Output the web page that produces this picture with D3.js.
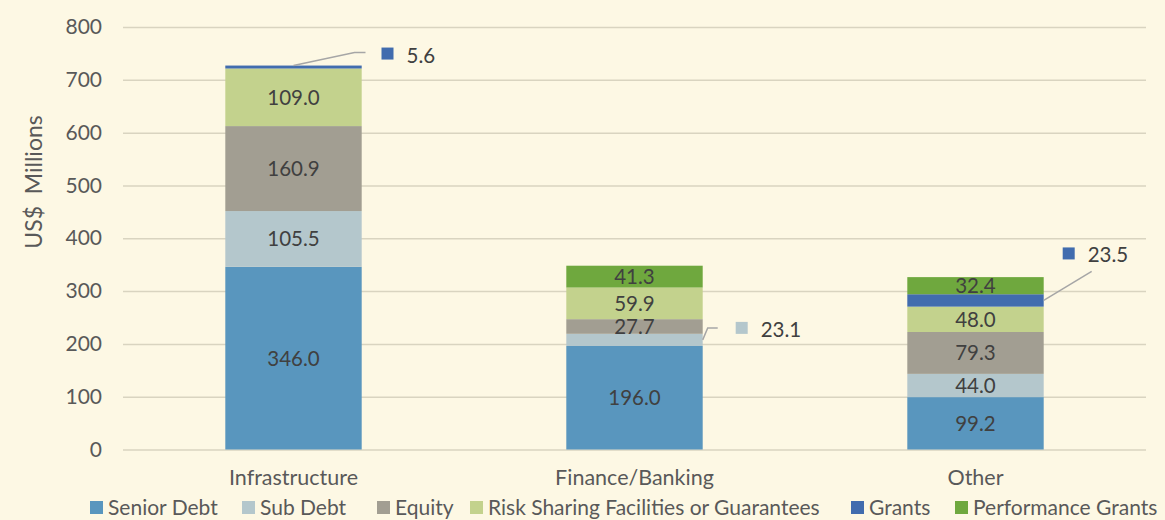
<!DOCTYPE html>
<html>
<head>
<meta charset="utf-8">
<script src="https://cdn.jsdelivr.net/npm/d3@7"></script>
<style>
    body { margin: 0; background: #fdf8e4; }
    text { font-family: Lato, "Open Sans", sans-serif; fill: #404040; }
    .grid line { stroke: #d9d4c0; stroke-width: 1.5px; }
    .grid path { display: none; }
    .axis path, .axis line { display: none; }
</style>
</head>
<body>
<div id="chart"></div>
<script>
const width = 1165;
const height = 520;

const margin = {
    top: 27,
    right: 19,
    bottom: 70,
    left: 123
};

const sectors = ["Infrastructure", "Finance/Banking", "Other"];
const series = ["Senior Debt", "Sub Debt", "Equity", "Risk Sharing Facilities or Guarantees", "Grants", "Performance Grants"];
const colors = ["#5996be", "#b4c7cc", "#a29e92", "#c3d28d", "#416cae", "#6fa83e"];

const seniorDebt = [346.0, 196.0, 99.2];
const subDebt = [105.5, 23.1, 44.0];
const equity = [160.9, 27.7, 79.3];
const riskSharing = [109.0, 59.9, 48.0];
const grants = [5.6, 0, 23.5];
const performanceGrants = [0, 41.3, 32.4];

const yTicks = [0, 100, 200, 300, 400, 500, 600, 700, 800];

const values = [seniorDebt, subDebt, equity, riskSharing, grants, performanceGrants];

// rows for d3.stack
const rows = sectors.map((s, i) => {
    const r = { sector: s };
    series.forEach((k, j) => { r[k] = values[j][i]; });
    return r;
});

const stacked = d3.stack().keys(series)(rows);

const svg = d3.select("#chart")
    .append("svg")
    .attr("width", width)
    .attr("height", height);

svg.append("rect")
    .attr("width", width)
    .attr("height", height)
    .attr("fill", "#fdf8e4");

const x = d3.scaleBand()
    .domain(sectors)
    .range([margin.left, width - margin.right])
    .paddingInner(0.6)
    .paddingOuter(0.3);

const y = d3.scaleLinear()
    .domain([0, 800])
    .range([height - margin.bottom - 0.5, margin.top]);

// GRID
svg.append("g")
    .attr("class", "grid")
    .attr("transform", `translate(${margin.left},0)`)
    .call(
        d3.axisLeft(y)
            .tickValues(yTicks)
            .tickSize(-(width - margin.left - margin.right))
            .tickFormat("")
    );

// BARS
const layers = svg.selectAll(".layer")
    .data(stacked)
    .enter()
    .append("g")
    .attr("class", "layer")
    .attr("fill", (d, i) => colors[i]);

layers.selectAll("rect")
    .data(d => d.map((p, i) => ({ p, sector: sectors[i] })))
    .enter()
    .append("rect")
    .attr("x", d => x(d.sector))
    .attr("y", d => y(d.p[1]))
    .attr("width", x.bandwidth())
    .attr("height", d => y(d.p[0]) - y(d.p[1]));

// LABELS inside segments (skip small ones, they get callouts)
const small = [[4, 0], [1, 1], [4, 2]];
const isSmall = (j, i) => small.some(s => s[0] === j && s[1] === i);

stacked.forEach((layer, j) => {
    layer.forEach((p, i) => {
        const v = p[1] - p[0];
        if (v <= 0 || isSmall(j, i)) return;
        svg.append("text")
            .attr("x", x(sectors[i]) + x.bandwidth() / 2)
            .attr("y", y((p[0] + p[1]) / 2))
            .attr("dy", "0.36em")
            .attr("text-anchor", "middle")
            .style("font-size", "20.5px")
            .text(v.toFixed(1));
    });
});

// CALLOUTS
const callouts = [
    { s: 4, i: 0, ax: 0.5, ay: "top", bend: [61, -13], end: [72, -13], box: [88, -18], tx: [113, -10] },
    { s: 1, i: 1, ax: 1, ay: "mid", bend: [5, -12], end: [15, -12], box: [33, -18], tx: [58, -10] },
    { s: 4, i: 2, ax: 1, ay: "mid", bend: [48, -29], end: [48, -29], box: [19, -53], tx: [44, -46] }
];

callouts.forEach(c => {
    const p = stacked[c.s][c.i];
    const sx = x(sectors[c.i]) + x.bandwidth() * c.ax;
    const sy = c.ay === "top" ? y(p[1]) : y((p[0] + p[1]) / 2);
    svg.append("polyline")
        .attr("points", [[sx, sy], [sx + c.bend[0], sy + c.bend[1]], [sx + c.end[0], sy + c.end[1]]].join(" "))
        .attr("fill", "none")
        .attr("stroke", "#a6a6a6")
        .attr("stroke-width", 1.5);
    svg.append("rect")
        .attr("x", sx + c.box[0])
        .attr("y", sy + c.box[1])
        .attr("width", 12)
        .attr("height", 12)
        .attr("fill", colors[c.s]);
    svg.append("text")
        .attr("x", sx + c.tx[0])
        .attr("y", sy + c.tx[1])
        .attr("dy", "0.36em")
        .style("font-size", "20.5px")
        .text((p[1] - p[0]).toFixed(1));
});

// X AXIS
svg.append("g")
    .attr("class", "axis")
    .attr("transform", `translate(0,${height - margin.bottom})`)
    .call(d3.axisBottom(x).tickSize(0).tickPadding(20))
    .selectAll("text")
    .style("font-size", "21.5px")
    .style("fill", "#595959");

// Y AXIS
svg.append("g")
    .attr("class", "axis")
    .attr("transform", `translate(${margin.left},0)`)
    .call(d3.axisLeft(y).tickValues(yTicks).tickSize(0).tickPadding(21))
    .selectAll("text")
    .style("font-size", "21px")
    .style("fill", "#595959");

// Y LABEL
svg.append("text")
    .attr("x", -182)
    .attr("y", 42)
    .attr("transform", "rotate(-90)")
    .attr("text-anchor", "middle")
    .style("font-size", "23px")
    .style("fill", "#595959")
    .attr("xml:space", "preserve")
    .text("US$  Millions");

// LEGEND
const legendX = [90, 242, 377, 470, 851, 955];
const legend = svg.selectAll(".legend")
    .data(series)
    .enter()
    .append("g")
    .attr("class", "legend")
    .attr("transform", (d, i) => `translate(${legendX[i]},501)`);

legend.append("rect")
    .attr("width", 13)
    .attr("height", 13)
    .attr("fill", (d, i) => colors[i]);

legend.append("text")
    .attr("x", 18)
    .attr("y", 6)
    .attr("dy", "0.36em")
    .style("font-size", "21px")
    .style("fill", "#595959")
    .text(d => d);
</script>
</body>
</html>
